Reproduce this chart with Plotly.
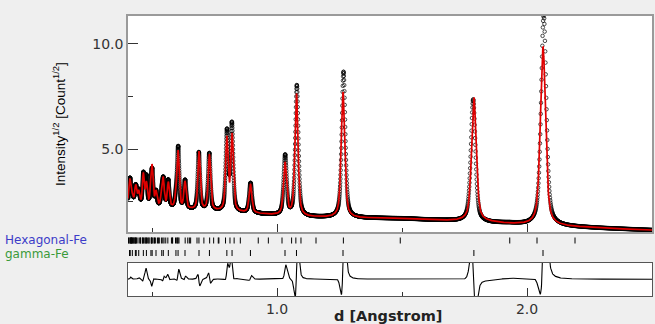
import numpy as np
import plotly.graph_objects as go

# ---------------- data ----------------
# background level (sqrt counts) at control d-values
bg_d    = [0.40, 0.50, 0.60, 0.70, 0.80, 0.90, 1.00, 1.10, 1.30, 1.50, 1.70, 1.80, 1.85, 1.93, 2.00, 2.15, 2.30, 2.50]
bg_obs  = [2.38, 2.23, 2.14, 2.07, 2.00, 1.93, 1.84, 1.76, 1.72, 1.69, 1.58, 1.50, 1.48, 1.46, 1.38, 1.31, 1.23, 1.14]
bg_calc = [2.38, 2.23, 2.14, 2.07, 2.00, 1.93, 1.84, 1.76, 1.72, 1.69, 1.58, 1.55, 1.51, 1.43, 1.38, 1.31, 1.23, 1.14]

# gamma-Fe reflections: calculated position/top, observed position/top (sqrt counts)
peak_d_calc   = [2.0640, 1.7875, 1.2640, 1.0779, 1.0320, 0.8938, 0.8202, 0.7994, 0.7297, 0.6880,
                 0.6320, 0.6043, 0.5958, 0.5653, 0.5452, 0.5390, 0.5160, 0.5006, 0.4958, 0.4777,
                 0.4654, 0.4469, 0.4368, 0.4335, 0.4213, 0.4128, 0.4101]
peak_top_calc = [9.85, 7.45, 7.70, 7.60, 4.30, 3.30, 5.60, 5.45, 4.70, 4.85,
                 3.40, 4.80, 2.60, 3.35, 3.38, 2.80, 2.90, 3.86, 2.90, 3.30,
                 3.75, 2.90, 2.80, 2.85, 2.70, 3.05, 2.95]
peak_d_obs    = [2.0668, 1.7847, 1.2661, 1.0794, 1.0326, 0.8943, 0.8196, 0.7999, 0.7292, 0.6875,
                 0.6323, 0.6047, 0.5958, 0.5649, 0.5456, 0.5390, 0.5160, 0.5010, 0.4958, 0.4773,
                 0.4657, 0.4469, 0.4368, 0.4335, 0.4213, 0.4130, 0.4101]
peak_top_obs  = [11.40, 7.35, 8.67, 8.00, 4.65, 3.35, 6.10, 5.75, 4.75, 4.80,
                 3.45, 5.00, 2.60, 3.45, 3.40, 2.80, 2.90, 3.70, 2.90, 3.60,
                 3.75, 2.95, 2.80, 2.85, 2.70, 3.10, 2.95]

# reflection tick positions (d, Angstrom)
hex_ticks = [2.192, 2.040, 1.931, 1.493, 1.2655, 1.156, 1.0959, 1.0754, 1.0584, 1.020,
             0.9654, 0.925, 0.8533, 0.8285, 0.8119, 0.7941, 0.7676, 0.765, 0.7466, 0.7306,
             0.7075, 0.6878, 0.680, 0.6545, 0.6495, 0.6431, 0.6327, 0.6079, 0.6043, 0.6013,
             0.599, 0.594, 0.5826, 0.5813, 0.5778, 0.5633, 0.555, 0.548, 0.5431, 0.5377,
             0.5292, 0.5256, 0.5222, 0.5146, 0.510, 0.5083, 0.5029, 0.4991, 0.4978, 0.4967,
             0.4882, 0.4875, 0.4827, 0.4783, 0.4767, 0.473, 0.4717, 0.4657, 0.4632, 0.4624,
             0.4549, 0.4532, 0.451, 0.4439, 0.4384, 0.4359, 0.4343, 0.4331, 0.4286, 0.4281,
             0.4267, 0.4218, 0.4207, 0.4189, 0.4182, 0.4172, 0.4142, 0.4131, 0.4121, 0.408, 0.4059]
gamma_ticks = [2.064, 1.7875, 1.264, 1.0779, 1.032, 0.8938, 0.8202, 0.7994, 0.7297, 0.688,
               0.632, 0.6043, 0.5958, 0.5653, 0.5452, 0.539, 0.516, 0.5006, 0.4958, 0.4777,
               0.4654, 0.4469, 0.4368, 0.4335, 0.4213, 0.4128, 0.4101]

phase_names = ["Hexagonal-Fe", "gamma-Fe"]
x_title = "d [Angstrom]"
y_title = "Intensity<sup>1/2</sup> [Count<sup>1/2</sup>]"
x_range = [0.404, 2.5]
y_range = [1.05, 11.33]

# ---------------- pattern from peak table ----------------
d = np.geomspace(x_range[0], x_range[1], 3600)

def fwhm(p):
    return 0.004 + 0.010 * p

def pv(x, p, w, eta=0.55):
    t = (x - p) / w
    return eta / (1 + 4 * t * t) + (1 - eta) * np.exp(-4 * np.log(2) * t * t)

def pattern(pos, tops, bg):
    base = np.interp(d, bg_d, bg)
    y = base.copy()
    for p, top in zip(pos, tops):
        amp = top - np.interp(p, bg_d, bg)
        y += amp * pv(d, p, fwhm(p))
    return y

obs = pattern(peak_d_obs, peak_top_obs, bg_obs)
calc = pattern(peak_d_calc, peak_top_calc, bg_calc)
diff = obs - calc

def seg(vals, y0, y1):
    xs, ys = [], []
    for v in vals:
        xs += [v, v, None]
        ys += [y0, y1, None]
    return xs, ys

# ---------------- figure ----------------
W, H = 655, 324
ml, mr, mt, mb = 128, 3, 16, 28
ph = H - mt - mb
pw = W - ml - mr
def fy(px):
    return (H - mb - px) / ph
def fx(px):
    return (px - ml) / pw

PAPER = "#efefef"
fig = go.Figure()

fig.add_trace(go.Scatter(x=d, y=obs, mode="markers", xaxis="x", yaxis="y",
                         marker=dict(symbol="circle-open", size=3.5, color="black", line=dict(width=0.7)),
                         showlegend=False, hoverinfo="skip"))
fig.add_trace(go.Scatter(x=d, y=calc, mode="lines", xaxis="x", yaxis="y",
                         line=dict(color="#e00000", width=1.7), showlegend=False, hoverinfo="skip"))

hx, hy = seg(hex_ticks, 14.5, 20.5)
gx, gy = seg(gamma_ticks, 2.0, 8.0)
fig.add_trace(go.Scatter(x=hx, y=hy, mode="lines", xaxis="x2", yaxis="y2",
                         line=dict(color="black", width=1), showlegend=False, hoverinfo="skip"))
fig.add_trace(go.Scatter(x=gx, y=gy, mode="lines", xaxis="x2", yaxis="y2",
                         line=dict(color="black", width=1), showlegend=False, hoverinfo="skip"))

fig.add_trace(go.Scatter(x=d, y=diff, mode="lines", xaxis="x3", yaxis="y3",
                         line=dict(color="black", width=1.1), showlegend=False, hoverinfo="skip"))

tickfont = dict(family="DejaVu Sans", size=14, color="#333333")

fig.update_layout(
    width=W, height=H,
    margin=dict(l=ml, r=mr, t=mt, b=mb, autoexpand=False),
    paper_bgcolor=PAPER, plot_bgcolor="white",
    xaxis=dict(domain=[0, 1], anchor="y", range=x_range, showticklabels=False, automargin=False,
               ticks="inside", ticklen=8, tickcolor="#333", dtick=1, tick0=0,
               minor=dict(ticks="inside", ticklen=4, dtick=0.5, tick0=0, tickcolor="#333"),
               showline=True, mirror=True, linecolor="#9a9a9a", linewidth=1.5,
               showgrid=False, zeroline=False),
    yaxis=dict(domain=[fy(232), 1], anchor="x", range=y_range, dtick=5, tick0=0, automargin=False,
               tickformat=".1f", ticks="inside", ticklen=10, tickcolor="#333",
               minor=dict(ticks="inside", ticklen=5, dtick=2.5, tick0=0, tickcolor="#333"),
               tickfont=tickfont, showline=True, mirror=True, linecolor="#9a9a9a", linewidth=1.5,
               showgrid=False, zeroline=False),
    xaxis2=dict(domain=[0, 1], anchor="y2", matches="x", range=x_range, visible=False, automargin=False),
    yaxis2=dict(domain=[fy(258), fy(234)], anchor="x2", range=[0, 24], visible=False, automargin=False),
    xaxis3=dict(domain=[0, 1], anchor="y3", matches="x", range=x_range, automargin=False,
                ticks="inside", ticklen=8, tickcolor="#333", dtick=1, tick0=0, tickformat=".1f",
                minor=dict(ticks="inside", ticklen=4, dtick=0.5, tick0=0, tickcolor="#333"),
                tickfont=tickfont, showline=True, mirror=True, linecolor="#555555", linewidth=1,
                showgrid=False, zeroline=False),
    yaxis3=dict(domain=[0, fy(262.5)], anchor="x3", range=[-0.5, 0.5], showticklabels=False,
                ticks="", showline=True, mirror=True, linecolor="#555555", linewidth=1,
                showgrid=False, zeroline=False, automargin=False),
    shapes=[dict(type="rect", xref="x2 domain", yref="y2 domain", x0=0, x1=1, y0=0, y1=1,
                 fillcolor=PAPER, line=dict(width=0), layer="below")],
    annotations=[
        dict(text=phase_names[0], xref="paper", yref="paper", x=fx(3), y=fy(240),
             xanchor="left", yanchor="middle", showarrow=False,
             font=dict(family="DejaVu Sans", size=12, color="#3c3cc8")),
        dict(text=phase_names[1], xref="paper", yref="paper", x=fx(3), y=fy(254),
             xanchor="left", yanchor="middle", showarrow=False,
             font=dict(family="DejaVu Sans", size=12, color="#3a9a3a")),
        dict(text="<b>" + x_title + "</b>", xref="paper", yref="paper", x=fx(388), y=fy(315.5),
             xanchor="center", yanchor="middle", showarrow=False,
             font=dict(family="DejaVu Sans", size=14.5, color="#222")),
        dict(text=y_title, xref="paper", yref="paper", x=fx(59), y=fy(124), textangle=-90,
             xanchor="center", yanchor="middle", showarrow=False,
             font=dict(family="Liberation Sans", size=13.5, color="black")),
    ],
)

fig.write_html("out.html", config={"displayModeBar": False},
               post_script="document.body.style.margin='0';document.body.style.padding='0';"
                           "document.body.style.background='" + PAPER + "';")
